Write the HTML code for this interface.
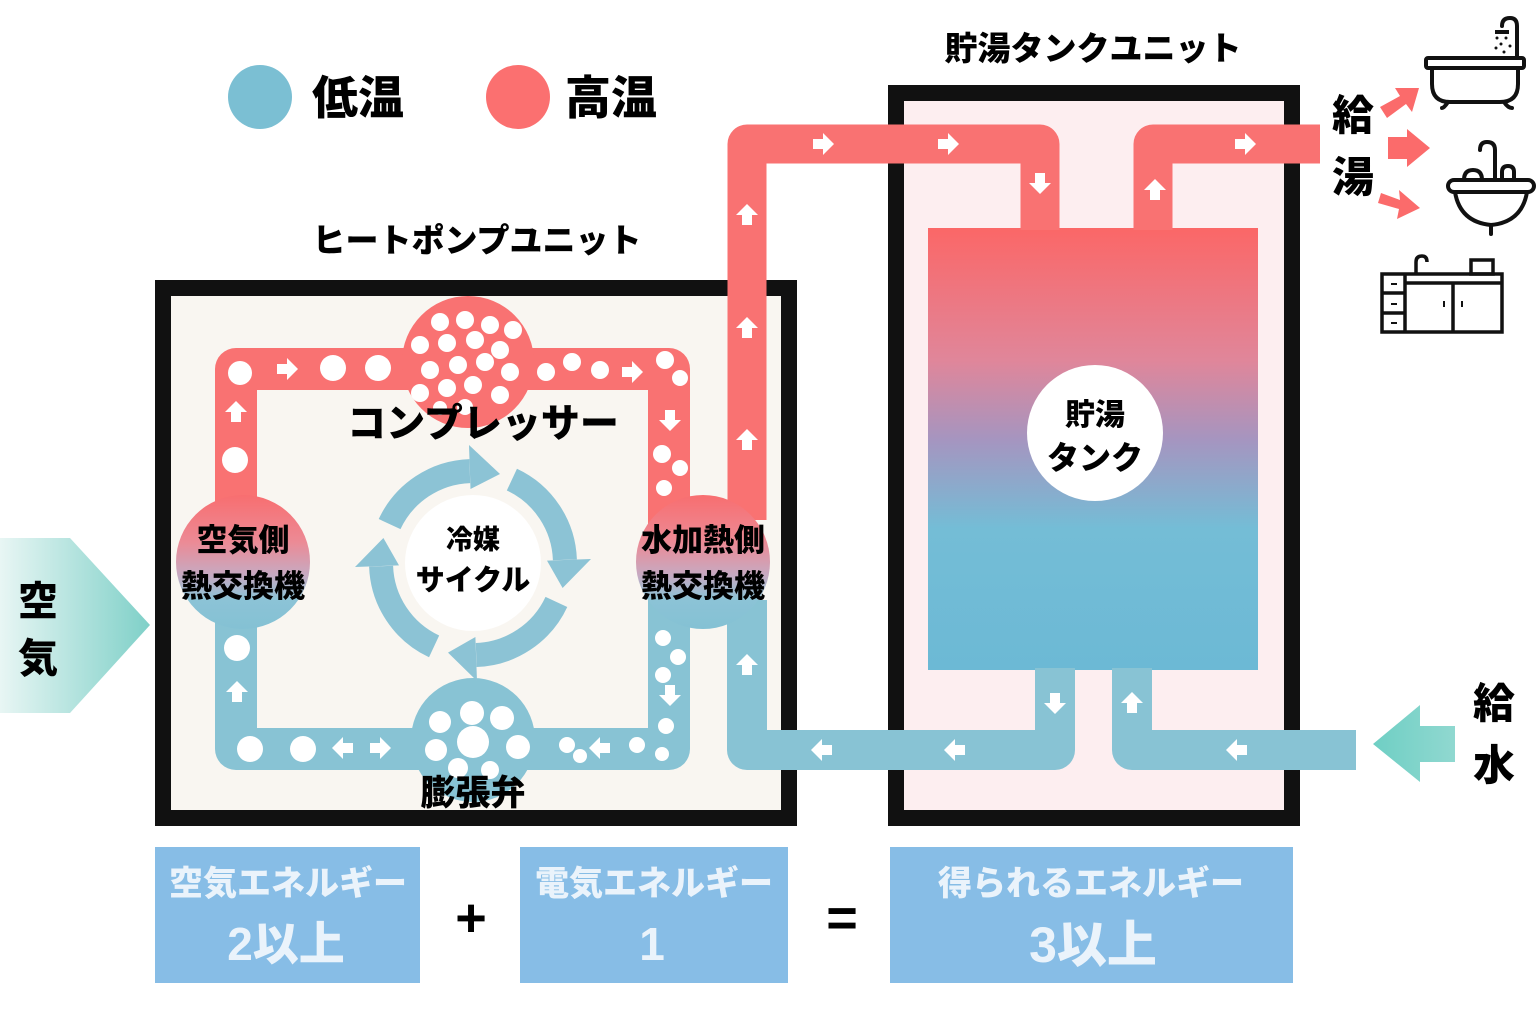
<!DOCTYPE html>
<html><head><meta charset="utf-8">
<style>
html,body{margin:0;padding:0;background:#fff;}
svg{display:block;}
text{font-family:"Liberation Sans","Noto Sans CJK JP",sans-serif;font-weight:900;}
</style></head>
<body>
<svg width="1536" height="1024" viewBox="0 0 1536 1024" xmlns="http://www.w3.org/2000/svg">
<defs>
<linearGradient id="tank" x1="0" y1="0" x2="0" y2="1">
<stop offset="0" stop-color="#fb6767"/><stop offset="0.3" stop-color="#e0869a"/>
<stop offset="0.48" stop-color="#a595c0"/><stop offset="0.68" stop-color="#74bdd6"/>
<stop offset="1" stop-color="#6cb9d5"/></linearGradient>
<linearGradient id="hx" x1="0" y1="0" x2="0" y2="1">
<stop offset="0" stop-color="#f86e70"/><stop offset="0.35" stop-color="#ec8a95"/>
<stop offset="0.6" stop-color="#c6aac2"/><stop offset="0.78" stop-color="#8cc3d6"/>
<stop offset="1" stop-color="#84c1d4"/></linearGradient>
<linearGradient id="air" x1="0" y1="0" x2="1" y2="0">
<stop offset="0" stop-color="#e8f6f4"/><stop offset="1" stop-color="#7fd0c8"/></linearGradient>
<linearGradient id="wat" x1="0" y1="0" x2="1" y2="0">
<stop offset="0" stop-color="#6fcfc4"/><stop offset="1" stop-color="#90d8d0"/></linearGradient>
<path id="ar" d="M-10,-5 L0,-5 L0,-11 L11,0 L0,11 L0,5 L-10,5Z" fill="#fff"/>
</defs>

<circle cx="260" cy="97" r="32" fill="#7bbfd3"/>
<text x="312" y="114" font-size="46">低温</text>
<circle cx="518" cy="97" r="32" fill="#fb7070"/>
<text x="565" y="114" font-size="46">高温</text>

<text x="477" y="252" font-size="33" text-anchor="middle">ヒートポンプユニット</text>
<text x="1093" y="60" font-size="33" text-anchor="middle">貯湯タンクユニット</text>

<rect x="163" y="288" width="626" height="530" fill="#f9f6f1" stroke="#111" stroke-width="16"/>
<rect x="896" y="93" width="396" height="725" fill="#fdeef0" stroke="#111" stroke-width="16"/>
<rect x="928" y="228" width="330" height="442" fill="url(#tank)"/>

<path d="M236,530 V369 H669 V530" fill="none" stroke="#f97272" stroke-width="42" stroke-linejoin="round"/>
<path d="M236,595 V749 H669 V595" fill="none" stroke="#88c3d4" stroke-width="42" stroke-linejoin="round"/>

<path d="M747,520 V144 H1040 V230" fill="none" stroke="#f97272" stroke-width="39" stroke-linejoin="round"/>
<path d="M1153,230 V144 H1320" fill="none" stroke="#f97272" stroke-width="39" stroke-linejoin="round"/>
<path d="M747,600 V750 H1055 V668" fill="none" stroke="#88c3d4" stroke-width="40" stroke-linejoin="round"/>
<path d="M1132,668 V750 H1356" fill="none" stroke="#88c3d4" stroke-width="40" stroke-linejoin="round"/>

<circle cx="468" cy="362" r="66" fill="#f97272"/>
<g fill="#fff">
<circle cx="440" cy="322" r="9"/><circle cx="465" cy="320" r="9"/><circle cx="490" cy="325" r="9"/><circle cx="513" cy="330" r="9"/>
<circle cx="420" cy="345" r="9"/><circle cx="447" cy="343" r="9"/><circle cx="475" cy="340" r="9"/><circle cx="500" cy="350" r="9"/>
<circle cx="430" cy="370" r="9"/><circle cx="458" cy="365" r="9"/><circle cx="485" cy="362" r="9"/><circle cx="510" cy="372" r="9"/>
<circle cx="420" cy="393" r="9"/><circle cx="447" cy="388" r="9"/><circle cx="473" cy="385" r="9"/><circle cx="500" cy="395" r="9"/>
<circle cx="465" cy="407" r="8"/><circle cx="440" cy="408" r="7"/>
<circle cx="240" cy="373" r="12"/><circle cx="333" cy="368" r="13"/><circle cx="378" cy="368" r="13"/>
<circle cx="546" cy="372" r="9"/><circle cx="572" cy="362" r="9"/><circle cx="600" cy="370" r="9"/>
<circle cx="665" cy="360" r="9"/><circle cx="680" cy="378" r="8"/><circle cx="662" cy="454" r="9"/><circle cx="680" cy="468" r="8"/><circle cx="664" cy="488" r="8"/>
<circle cx="235" cy="460" r="13"/>
</g>

<circle cx="473" cy="740" r="62" fill="#88c3d4"/>
<g fill="#fff">
<circle cx="440" cy="722" r="11"/><circle cx="472" cy="713" r="12"/><circle cx="502" cy="718" r="12"/>
<circle cx="436" cy="750" r="11"/><circle cx="473" cy="742" r="16"/><circle cx="518" cy="747" r="12"/>
<circle cx="458" cy="768" r="10"/><circle cx="490" cy="770" r="9"/>
<circle cx="237" cy="648" r="13"/><circle cx="250" cy="749" r="13"/><circle cx="303" cy="749" r="13"/>
<circle cx="567" cy="745" r="8"/><circle cx="580" cy="756" r="7"/><circle cx="637" cy="745" r="8"/><circle cx="662" cy="754" r="7"/>
<circle cx="663" cy="638" r="8"/><circle cx="678" cy="657" r="8"/><circle cx="663" cy="675" r="8"/><circle cx="666" cy="726" r="8"/>
</g>

<use href="#ar" transform="translate(287,369)"/>
<use href="#ar" transform="translate(632,372)"/>
<use href="#ar" transform="translate(236,412) rotate(-90)"/>
<use href="#ar" transform="translate(670,420) rotate(90)"/>
<use href="#ar" transform="translate(747,215) rotate(-90)"/>
<use href="#ar" transform="translate(747,328) rotate(-90)"/>
<use href="#ar" transform="translate(747,440) rotate(-90)"/>
<use href="#ar" transform="translate(823,144)"/>
<use href="#ar" transform="translate(948,144)"/>
<use href="#ar" transform="translate(1040,183) rotate(90)"/>
<use href="#ar" transform="translate(1155,190) rotate(-90)"/>
<use href="#ar" transform="translate(1245,144)"/>
<use href="#ar" transform="translate(237,692) rotate(-90)"/>
<use href="#ar" transform="translate(343,748) rotate(180)"/>
<use href="#ar" transform="translate(380,748)"/>
<use href="#ar" transform="translate(600,748) rotate(180)"/>
<use href="#ar" transform="translate(670,695) rotate(90)"/>
<use href="#ar" transform="translate(747,665) rotate(-90)"/>
<use href="#ar" transform="translate(822,750) rotate(180)"/>
<use href="#ar" transform="translate(955,750) rotate(180)"/>
<use href="#ar" transform="translate(1055,703) rotate(90)"/>
<use href="#ar" transform="translate(1132,703) rotate(-90)"/>
<use href="#ar" transform="translate(1237,750) rotate(180)"/>

<circle cx="243" cy="562" r="67" fill="url(#hx)"/>
<circle cx="703" cy="562" r="67" fill="url(#hx)"/>
<text x="243" y="551" font-size="31" text-anchor="middle">空気側</text>
<text x="243" y="597" font-size="31" text-anchor="middle">熱交換機</text>
<text x="703" y="551" font-size="31" text-anchor="middle">水加熱側</text>
<text x="703" y="597" font-size="31" text-anchor="middle">熱交換機</text>

<text x="483" y="437" font-size="39" text-anchor="middle">コンプレッサー</text>
<text x="473" y="805" font-size="35" text-anchor="middle">膨張弁</text>

<g fill="none" stroke="#8cc3d5" stroke-width="24">
<path d="M389.6,524.1 A92,92 0 0 1 469.8,471.1"/>
<path d="M511.9,479.6 A92,92 0 0 1 564.9,559.8"/>
<path d="M556.4,601.9 A92,92 0 0 1 476.2,655"/>
<path d="M434.1,646.4 A92,92 0 0 1 381.1,566.2"/>
</g>
<g fill="#8cc3d5">
<polygon points="470.5,489 469,445 500,474"/>
<polygon points="547,560.6 591,559 562.6,588"/>
<polygon points="475.4,637 477,681 448,652.6"/>
<polygon points="399,565.4 355,567 383.4,538"/>
</g>
<circle cx="473" cy="563" r="68" fill="#fff"/>
<text x="473" y="549" font-size="27" text-anchor="middle">冷媒</text>
<text x="473" y="590" font-size="29" text-anchor="middle">サイクル</text>

<circle cx="1095" cy="433" r="68" fill="#fff"/>
<text x="1095" y="425" font-size="30" text-anchor="middle">貯湯</text>
<text x="1095" y="469" font-size="32" text-anchor="middle">タンク</text>

<polygon points="0,538 70,538 150,625 70,713 0,713" fill="url(#air)"/>
<text x="38" y="615" font-size="40" text-anchor="middle">空</text>
<text x="38" y="672" font-size="40" text-anchor="middle">気</text>

<polygon points="1373,744 1420,705 1420,726 1455,726 1455,762 1420,762 1420,782" fill="url(#wat)"/>
<text x="1494" y="718" font-size="42" text-anchor="middle">給</text>
<text x="1494" y="780" font-size="42" text-anchor="middle">水</text>

<text x="1353" y="130" font-size="42" text-anchor="middle">給</text>
<text x="1353" y="192" font-size="42" text-anchor="middle">湯</text>
<g fill="#fb6b6b">
<polygon points="1380,107 1400,96 1395,88 1419,88 1412,112 1406,104 1387,118"/>
<polygon points="1388,137 1407,137 1407,129 1430,148 1407,167 1407,159 1388,159"/>
<polygon points="1381,193 1400,200 1399,190 1420,208 1397,219 1399,209 1378,203"/>
</g>
<g fill="none" stroke="#111" stroke-width="4" stroke-linecap="round">
<rect x="1426" y="58" width="98" height="10" rx="2"/>
<path d="M1432,68 V84 Q1432,102 1450,102 H1500 Q1518,102 1518,84 V68"/>
<path d="M1448,102 Q1444,108 1442,108 M1504,102 Q1508,108 1512,108"/>
<path d="M1517,58 V26 Q1517,18 1510,18 Q1502,18 1502,26"/>
</g>
<g fill="#111"><rect x="1495" y="30" width="14" height="4"/><circle cx="1497" cy="38" r="1.5"/><circle cx="1501" cy="44" r="1.5"/><circle cx="1506" cy="38" r="1.5"/><circle cx="1510" cy="46" r="1.5"/><circle cx="1496" cy="48" r="1.5"/><circle cx="1504" cy="52" r="1.5"/></g>
<g fill="none" stroke="#111" stroke-width="4" stroke-linecap="round">
<rect x="1448" y="180" width="86" height="12" rx="6"/>
<path d="M1455,192 Q1460,222 1491,225 Q1522,222 1527,192"/>
<path d="M1491,225 V234"/>
<path d="M1495,180 V150 Q1495,142 1487,142 Q1480,142 1480,150"/>
<path d="M1464,180 Q1464,170 1473,170 Q1482,170 1482,180"/>
<path d="M1502,180 V172 Q1502,166 1508,166 Q1514,166 1514,172 V180"/>
</g>
<g fill="none" stroke="#111" stroke-width="3.5">
<rect x="1382" y="274" width="120" height="58"/>
<line x1="1405" y1="274" x2="1405" y2="332"/>
<line x1="1382" y1="293" x2="1405" y2="293"/><line x1="1382" y1="313" x2="1405" y2="313"/>
<line x1="1405" y1="283" x2="1502" y2="283"/>
<line x1="1453" y1="283" x2="1453" y2="332"/>
<path d="M1416,274 V262 Q1416,256 1422,256 Q1427,256 1427,262"/>
<rect x="1471" y="260" width="22" height="14"/>
</g>
<g fill="#111"><rect x="1391" y="283" width="6" height="2"/><rect x="1391" y="303" width="6" height="2"/><rect x="1391" y="322" width="6" height="2"/><rect x="1443" y="301" width="2" height="6"/><rect x="1461" y="301" width="2" height="6"/></g>

<rect x="155" y="847" width="265" height="136" fill="#87bde6"/>
<rect x="520" y="847" width="268" height="136" fill="#87bde6"/>
<rect x="890" y="847" width="403" height="136" fill="#87bde6"/>
<g fill="#eaf3fb" text-anchor="middle">
<text x="288" y="895" font-size="34">空気エネルギー</text>
<text x="286" y="960" font-size="46">2以上</text>
<text x="654" y="895" font-size="34">電気エネルギー</text>
<text x="652" y="960" font-size="46">1</text>
<text x="1091" y="895" font-size="34">得られるエネルギー</text>
<text x="1093" y="962" font-size="50">3以上</text>
</g>
<text x="471" y="936" font-size="54" text-anchor="middle">+</text>
<text x="842" y="936" font-size="54" text-anchor="middle">=</text>
</svg>
</body></html>
